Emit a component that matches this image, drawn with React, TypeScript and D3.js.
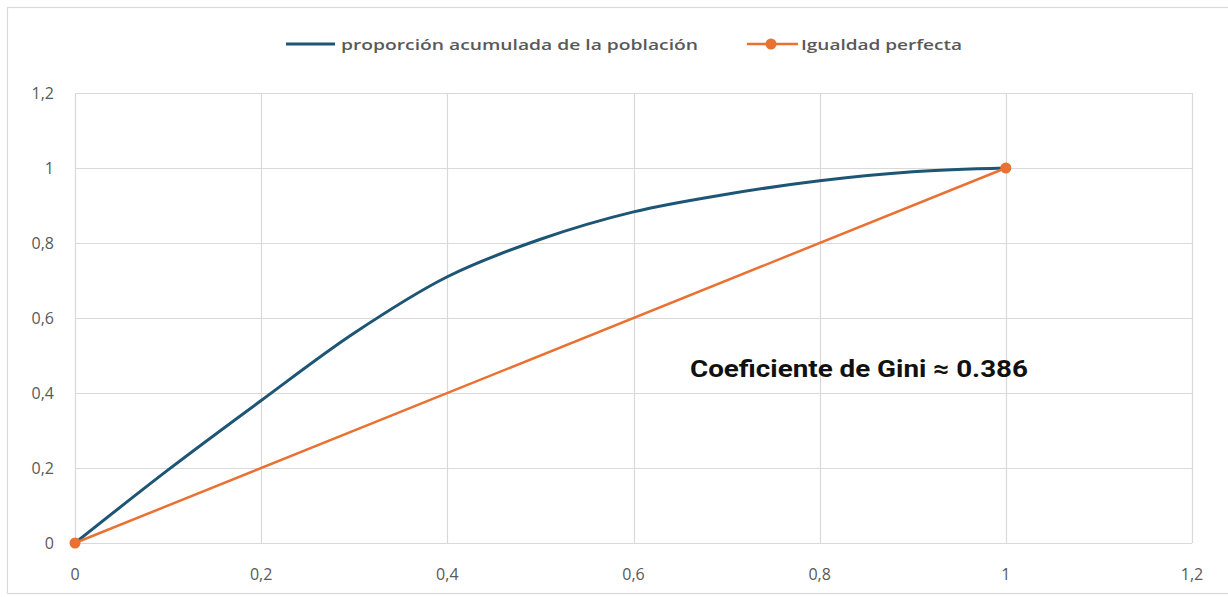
import React from "react";
import * as d3 from "d3";

const xTicks = [0, 0.2, 0.4, 0.6, 0.8, 1, 1.2];
const yTicks = [0, 0.2, 0.4, 0.6, 0.8, 1, 1.2];
const lorenzX = [0, 0.1, 0.2, 0.3, 0.4, 0.5, 0.6, 0.7, 0.8, 0.9, 1];
const lorenzY = [0, 0.195, 0.38, 0.56, 0.71, 0.81, 0.883, 0.93, 0.966, 0.99, 1];
const equalX = [0, 1];
const equalY = [0, 1];
const seriesNames = ["proporción acumulada de la población", "Igualdad perfecta"];
const annotation = "Coeficiente de Gini ≈ 0.386";

const W = 1228;
const H = 597;
const BLUE = "#1d5575";
const ORANGE = "#e97132";
const GRID = "#d9d9d9";
const LABEL = "#595959";

const fmt = (v: number) => String(+v.toFixed(1)).replace(".", ",");

export default function App() {
  const x = d3.scaleLinear().domain([0, 1.2]).range([75, 1192]);
  const y = d3.scaleLinear().domain([0, 1.2]).range([543, 93]);

  const lorenz = lorenzX.map((v, i) => [v, lorenzY[i]] as [number, number]);
  const equal = equalX.map((v, i) => [v, equalY[i]] as [number, number]);

  const smooth = d3
    .line<[number, number]>()
    .x((d) => x(d[0]))
    .y((d) => y(d[1]))
    .curve(d3.curveCatmullRom.alpha(0.5));
  const straight = d3
    .line<[number, number]>()
    .x((d) => x(d[0]))
    .y((d) => y(d[1]));

  return (
    <svg
      width={W}
      height={H}
      style={{ position: "absolute", left: 0, top: 0, background: "#fff" }}
      fontFamily="'Open Sans', sans-serif"
    >
      <rect x={0} y={0} width={W} height={H} fill="#fff" />
      <rect x={7.5} y={7.5} width={1240} height={586} fill="none" stroke={GRID} strokeWidth={1.2} />

      {/* grid */}
      {yTicks.map((t) => (
        <line key={"gy" + t} x1={x(0)} x2={x(1.2)} y1={Math.round(y(t)) + 0.5} y2={Math.round(y(t)) + 0.5} stroke={GRID} strokeWidth={1.2} />
      ))}
      {xTicks.map((t) => (
        <line key={"gx" + t} y1={y(1.2)} y2={y(0)} x1={Math.round(x(t)) + 0.5} x2={Math.round(x(t)) + 0.5} stroke={GRID} strokeWidth={1.2} />
      ))}

      {/* y labels */}
      {yTicks.map((t) => (
        <text key={"ly" + t} x={54} y={y(t)} dy="0.35em" textAnchor="end" fontSize={16} fill={LABEL}>
          {fmt(t)}
        </text>
      ))}
      {/* x labels */}
      {xTicks.map((t) => (
        <text key={"lx" + t} x={x(t)} y={580} textAnchor="middle" fontSize={16} fill={LABEL}>
          {fmt(t)}
        </text>
      ))}

      {/* series */}
      <path d={smooth(lorenz) || ""} fill="none" stroke={BLUE} strokeWidth={3} strokeLinecap="round" />
      <path d={straight(equal) || ""} fill="none" stroke={ORANGE} strokeWidth={2.5} strokeLinecap="round" />
      {equal.map((d, i) => (
        <circle key={"m" + i} cx={x(d[0])} cy={y(d[1])} r={5.5} fill={ORANGE} />
      ))}

      {/* annotation */}
      <text x={690} y={377} fontFamily="Roboto, sans-serif" fontWeight={700} fontSize={24} fill="#111" textLength={338} lengthAdjust="spacingAndGlyphs">
        {annotation}
      </text>

      {/* legend */}
      <line x1={286} x2={335} y1={44} y2={44} stroke={BLUE} strokeWidth={3} />
      <text x={341} y={50} fontSize={15} fontWeight={600} fill={LABEL} textLength={357} lengthAdjust="spacingAndGlyphs">
        {seriesNames[0]}
      </text>
      <line x1={747} x2={798} y1={44} y2={44} stroke={ORANGE} strokeWidth={2.5} />
      <circle cx={771} cy={44} r={5.5} fill={ORANGE} />
      <text x={801} y={50} fontSize={15} fontWeight={600} fill={LABEL} textLength={161} lengthAdjust="spacingAndGlyphs">
        {seriesNames[1]}
      </text>
    </svg>
  );
}
